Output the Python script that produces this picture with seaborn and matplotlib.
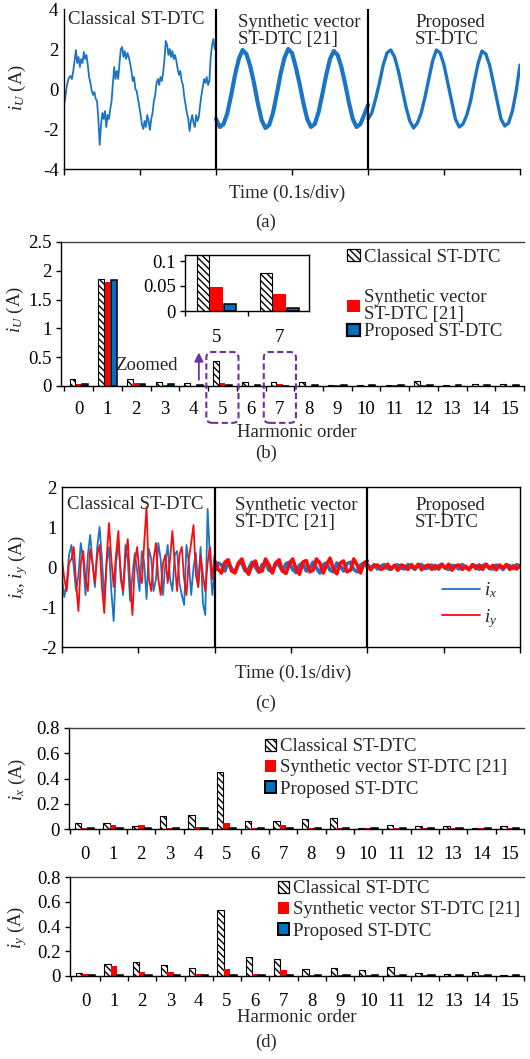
import numpy as np
import pandas as pd
import matplotlib
matplotlib.use("Agg")
import matplotlib.pyplot as plt
import seaborn as sns
from matplotlib.patches import Patch, FancyBboxPatch
from matplotlib.lines import Line2D
from matplotlib.legend import Legend
from matplotlib.ticker import FuncFormatter

sns.set_style("ticks")
plt.rcParams.update({
    "font.family": ["Liberation Serif", "DejaVu Serif"],
    "mathtext.fontset": "custom",
    "mathtext.rm": "Liberation Serif",
    "mathtext.it": "Liberation Serif:italic",
    "font.size": 13.5,
    "axes.unicode_minus": False,
    "hatch.linewidth": 1.0,
    "axes.linewidth": 1.0,
    "axes.edgecolor": "black",
    "xtick.color": "black",
    "ytick.color": "black",
    "xtick.major.size": 3.6,
    "ytick.major.size": 3.6,
    "xtick.minor.size": 3.6,
    "xtick.major.width": 1.0,
    "ytick.major.width": 1.0,
    "xtick.minor.width": 1.0,
    "xtick.direction": "out",
    "ytick.direction": "out",
})

# ---------------------------------------------------------------- data
METHODS = ["Classical ST-DTC", "Synthetic vector ST-DTC [21]", "Proposed ST-DTC"]
ORDERS = list(range(16))

# phase current i_U spectrum (A)
iu_classical = [0.13, 1.85, 0.13, 0.065, 0.06, 0.44, 0.065, 0.077, 0.075, 0.02, 0.02, 0.02, 0.08, 0.02, 0.03, 0.03]
iu_synthetic = [0.03, 1.80, 0.045, 0.02, 0.005, 0.048, 0.005, 0.034, 0.008, 0.01, 0.008, 0.01, 0.01, 0.005, 0.005, 0.005]
iu_proposed = [0.03, 1.84, 0.03, 0.04, 0.02, 0.015, 0.02, 0.006, 0.015, 0.02, 0.02, 0.02, 0.015, 0.015, 0.015, 0.015]
ZOOM_ORDERS = [5, 7]

# harmonic-plane current spectra (A)
ix_classical = [0.045, 0.048, 0.022, 0.10, 0.11, 0.455, 0.06, 0.065, 0.08, 0.09, 0.005, 0.028, 0.02, 0.025, 0.005, 0.025]
ix_synthetic = [0.008, 0.035, 0.032, 0.01, 0.015, 0.05, 0.006, 0.033, 0.004, 0.006, 0.004, 0.004, 0.004, 0.008, 0.004, 0.004]
ix_proposed = [0.006, 0.01, 0.006, 0.005, 0.005, 0.01, 0.004, 0.01, 0.005, 0.005, 0.004, 0.004, 0.004, 0.004, 0.004, 0.004]

iy_classical = [0.027, 0.10, 0.11, 0.086, 0.062, 0.53, 0.15, 0.134, 0.054, 0.065, 0.046, 0.075, 0.028, 0.02, 0.033, 0.008]
iy_synthetic = [0.016, 0.078, 0.032, 0.035, 0.019, 0.056, 0.016, 0.048, 0.01, 0.005, 0.005, 0.005, 0.005, 0.004, 0.006, 0.004]
iy_proposed = [0.008, 0.01, 0.01, 0.01, 0.008, 0.012, 0.008, 0.008, 0.006, 0.006, 0.006, 0.006, 0.006, 0.005, 0.005, 0.005]

# measured i_U (A), one record per controller, 0.2 s each
iu_trace_classical = [
    -0.8, -0.4, 0.1, 0.4, 0.6, 0.65, 0.5, 0.9, 1.4, 1.95, 1.3, 1.6, 1.1, 1.5, 1.3, 1.85,
    1.5, 1.7, 1.2, 0.6, 0.3, -0.1, -0.3, -0.15, -0.5, -0.6, -1.5, -2.8, -1.8, -1.2, -1.5,
    -1.1, -1.9, -1.3, -1.5, -1.0, -0.6, 0.3, 1.1, 0.5, 0.9, 0.5, 1.3, 2.0, 2.1, 1.6, 1.9,
    1.5, 1.8, 1.6, 1.3, 0.9, 0.4, 0.6, 0.0, -0.1, -0.5, -0.9, -1.3, -1.8, -2.0, -1.6, -1.9,
    -1.3, -1.6, -2.05, -1.5, -1.2, -0.6, -0.3, 0.3, 0.5, 0.2, 0.6, 0.4, 0.8, 1.5, 2.4, 2.2,
    1.7, 2.0, 1.6, 1.9, 1.5, 1.7, 1.4, 1.0, 0.7, 0.9, 0.4, 0.2, -0.4, -0.8, -1.2, -1.5,
    -2.1, -1.6, -1.3, -1.7, -1.9, -1.3, -1.6, -1.4, -0.8, -0.3, 0.1, 0.5, 0.3, 0.6, 0.2,
    0.4, 1.6, 2.2, 2.5, 2.0, 2.3,
]
iu_trace_synthetic = [
    -1.5, -1.9, -1.75, -1.2, -0.3, 0.7, 1.5, 1.95, 1.75, 1.15, 0.3, -0.7, -1.55, -1.95,
    -1.8, -1.2, -0.25, 0.75, 1.55, 2.0, 1.8, 1.1, 0.25, -0.7, -1.5, -1.9, -1.75, -1.15,
    -0.25, 0.7, 1.5, 1.9, 1.7, 1.1, 0.25, -0.7, -1.5, -1.9, -1.75, -1.3, -0.8,
]
iu_trace_proposed = [
    -1.5, -1.2, -0.5, 0.3, 1.2, 1.8, 1.95, 1.6, 0.9, 0.0, -0.9, -1.6, -1.95, -1.7, -1.2,
    -0.4, 0.5, 1.4, 1.95, 1.8, 1.2, 0.3, -0.6, -1.5, -1.9, -1.75, -1.3, -0.6, 0.4, 1.3,
    1.9, 1.75, 1.2, 0.3, -0.6, -1.5, -1.85, -1.7, -1.1, -0.1, 1.2,
]

# measured i_x / i_y (A)
ix_trace_classical = [
    -0.3, -0.75, -0.4, 0.3, 0.55, 0.0, -0.6, -0.2, 0.6, 0.2, -0.7, 0.3, 0.8, 0.1, -0.5,
    0.5, 1.0, 0.2, -0.8, 0.1, 0.5, -0.6, -1.35, 0.1, 0.6, -0.1, -0.7, 0.55, 0.2, -0.85,
    -0.2, 0.35, -0.1, -0.6, 0.4, 0.1, -0.8, 0.45, 0.2, -0.6, -0.3, 0.6, 0.2, -0.7, 0.1,
    0.55, -0.3, -0.6, 0.3, 0.4, -0.4, -0.7, -0.95, 0.55, 0.1, -0.7, 0.0, 0.35, -0.5, 0.5,
    -0.9, -1.2, 1.45, 0.2, -0.7, -0.1,
]
iy_trace_classical = [
    0.2, -0.3, -0.6, 0.1, 0.2, 0.5, -0.4, -1.1, 0.1, 0.4, -0.3, -0.6, 0.45, 0.1, -0.4,
    0.3, 0.55, -0.5, -1.15, 0.2, 1.1, 0.2, -0.5, 0.3, 0.9, -0.3, -0.6, 0.2, 0.7, -0.4,
    -1.2, 0.1, 0.5, -0.2, -0.4, 0.6, 1.5, -0.3, -0.6, 0.2, 0.6, -0.3, -0.7, 0.1, 0.3,
    -0.4, 0.2, 0.9, 0.1, -0.6, 0.3, 0.5, -0.3, -0.7, 0.2, 0.6, 1.05, -0.2, -0.5, 0.3,
    -0.2, -0.6, 0.1, 0.5, -0.3, 0.3,
]
ix_trace_synthetic = [
    -0.1, 0.1, 0.05, -0.1, 0.12, -0.05, -0.12, 0.08, 0.1, -0.1, -0.05, 0.12, 0.0, -0.13,
    0.06, 0.1, -0.08, -0.12, 0.1, 0.04, -0.1, 0.08, 0.12, -0.06, -0.14, 0.05, 0.1, -0.1,
    -0.04, 0.12, -0.02, -0.15, 0.06, 0.1, -0.08, -0.12, 0.1, 0.03, -0.1, 0.08, 0.12,
    -0.06, -0.12, 0.05, 0.1, 0.0,
]
iy_trace_synthetic = [
    0.15, -0.05, -0.15, 0.12, 0.18, -0.1, -0.15, 0.1, 0.2, -0.05, -0.18, 0.05, 0.15,
    -0.12, -0.1, 0.2, 0.05, -0.15, 0.1, 0.18, -0.1, -0.16, 0.08, 0.2, -0.05, -0.18, 0.12,
    0.16, -0.12, -0.08, 0.2, 0.1, -0.15, 0.05, 0.22, -0.05, -0.17, 0.1, 0.15, -0.12,
    -0.08, 0.2, 0.05, -0.15, 0.1, 0.15,
]
ix_trace_proposed = [
    0.05, -0.03, 0.06, -0.05, 0.02, 0.06, -0.04, -0.06, 0.04, 0.05, -0.03, -0.05, 0.06,
    0.0, -0.06, 0.04, 0.06, -0.04, -0.02, 0.05, -0.05, 0.03, 0.07, -0.03, -0.06, 0.04,
    0.02, -0.05, 0.06, -0.02, -0.05, 0.05, 0.03, -0.06, 0.04, 0.06, -0.04, -0.05, 0.05,
    0.01, -0.06, 0.05, 0.03, -0.04, 0.06, 0.0,
]
iy_trace_proposed = [
    0.06, -0.07, 0.03, 0.05, -0.06, -0.02, 0.07, -0.05, 0.04, -0.08, 0.05, 0.02, -0.06,
    0.06, -0.04, 0.07, -0.07, 0.02, 0.05, -0.06, 0.04, -0.05, 0.06, -0.03, 0.07, -0.08,
    0.03, 0.05, -0.06, 0.02, -0.07, 0.06, -0.04, 0.05, -0.06, 0.07, -0.03, 0.04, -0.07,
    0.05, -0.02, 0.06, -0.06, 0.03, -0.05, 0.04,
]

SEG_EDGES = [0.0, 0.2, 0.4, 0.6]
SEG_TITLES = ["Classical ST-DTC", "Synthetic vector\nST-DTC [21]", "Proposed\nST-DTC"]

# ---------------------------------------------------------------- style
TRACE_BLUE = "#1B75C3"
TRACE_RED = "#FF0A0A"
BAR_BLUE = "#0070C0"
BAR_RED = "#FF0000"
PURPLE = "#7030A0"
HATCH = "\\\\\\\\\\"
PALETTE = dict(zip(METHODS, ["white", BAR_RED, BAR_BLUE]))

W, H = 530, 1059
fig = plt.figure(figsize=(W / 100, H / 100), dpi=100, facecolor="white")

BOX_A = (64, 9, 520, 169)
BOX_B = (61, 242, 524, 386)
BOX_BI = (185, 255, 309, 311)
BOX_C = (62, 487, 520, 647)
BOX_D1 = (69, 728, 524, 829)
BOX_D2 = (70, 877, 524, 976)


def axes_at(box):
    l, t, r, b = box
    return fig.add_axes([l / W, 1 - b / H, (r - l) / W, (b - t) / H])


def to_axes(box, px, py):
    l, t, r, b = box
    return (px - l) / (r - l), (b - py) / (b - t)


def place_label(ax, box, which, px, py):
    axis = ax.xaxis if which == "x" else ax.yaxis
    axis.set_label_coords(*to_axes(box, px, py))
    axis.label.set_va("center")
    axis.label.set_ha("center")


plain = FuncFormatter(lambda v, p: f"{v:g}")


def legend_handles(size_lw=1.4):
    return [
        Patch(facecolor="white", edgecolor="black", hatch=HATCH, linewidth=0.9),
        Patch(facecolor=BAR_RED, edgecolor="none"),
        Patch(facecolor=BAR_BLUE, edgecolor="black", linewidth=size_lw),
    ]


# ---------------------------------------------------------------- time plots
def time_panel(ax, box, series, ylim, yticks, title_xy):
    for segments, color, widths in series:
        for k, vals in enumerate(segments):
            t = np.linspace(SEG_EDGES[k], SEG_EDGES[k + 1], len(vals))
            sns.lineplot(x=t, y=vals, ax=ax, color=color, linewidth=widths[k],
                         estimator=None, sort=False, legend=False)
    for edge in SEG_EDGES[1:3]:
        ax.axvline(edge, color="black", lw=1.6, zorder=5)
    ax.set_xlim(SEG_EDGES[0], SEG_EDGES[-1])
    ax.set_ylim(*ylim)
    ax.set_xticks(np.arange(0, 0.61, 0.1))
    ax.set_xticklabels([])
    ax.set_yticks(yticks)
    ax.yaxis.set_major_formatter(plain)
    ax.tick_params(axis="y", length=0, pad=4)
    ax.tick_params(axis="x", length=4, pad=2)
    for (px, py), txt in zip(title_xy, SEG_TITLES):
        fx, fy = to_axes(box, px, py)
        ax.text(fx, fy, txt, transform=ax.transAxes, ha="left", va="center",
                linespacing=1.05, zorder=6)


ax_a = axes_at(BOX_A)
time_panel(
    ax_a, BOX_A,
    [([iu_trace_classical, iu_trace_synthetic, iu_trace_proposed], TRACE_BLUE, [1.3, 3.0, 2.4])],
    (-4, 4), [-4, -2, 0, 2, 4],
    [(68, 20), (238, 31), (415, 31)],
)
sns.despine(ax=ax_a, top=True, right=True)
ax_a.set_xlabel("Time (0.1s/div)")
place_label(ax_a, BOX_A, "x", 287, 193)
ax_a.set_ylabel("$i_U$ (A)")
place_label(ax_a, BOX_A, "y", 17, 88)

ax_c = axes_at(BOX_C)
time_panel(
    ax_c, BOX_C,
    [([ix_trace_classical, ix_trace_synthetic, ix_trace_proposed], TRACE_BLUE, [1.3, 2.6, 2.6]),
     ([iy_trace_classical, iy_trace_synthetic, iy_trace_proposed], TRACE_RED, [1.3, 2.6, 2.6])],
    (-2, 2), [-2, -1, 0, 1, 2],
    [(67, 504), (235, 514), (415, 514)],
)
ax_c.set_xlabel("Time (0.1s/div)")
place_label(ax_c, BOX_C, "x", 293, 673)
ax_c.set_ylabel("$i_x$, $i_y$ (A)")
place_label(ax_c, BOX_C, "y", 18, 567)
ax_c.legend(
    handles=[Line2D([], [], color=TRACE_BLUE, lw=1.3), Line2D([], [], color=TRACE_RED, lw=1.3)],
    labels=["$i_x$", "$i_y$"], loc="center left",
    bbox_to_anchor=to_axes(BOX_C, 442, 605), frameon=False, handlelength=2.0,
    handletextpad=0.25, labelspacing=0.35, borderpad=0, borderaxespad=0,
)


# ---------------------------------------------------------------- spectra
def spectrum_bars(ax, orders, classical, synthetic, proposed, width, gap):
    df = pd.DataFrame({
        "order": np.tile(orders, 3),
        "value": np.concatenate([classical, synthetic, proposed]),
        "method": np.repeat(METHODS, len(orders)),
    })
    sns.barplot(data=df, x="order", y="value", hue="method", hue_order=METHODS,
                palette=PALETTE, saturation=1, width=width, gap=gap,
                errorbar=None, legend=False, ax=ax)
    cl, sy, pr = ax.containers
    for p in cl:
        p.set_facecolor("white")
        p.set_edgecolor("black")
        p.set_hatch(HATCH)
        p.set_linewidth(0.8)
    for p in sy:
        p.set_edgecolor("none")
        p.set_linewidth(0)
    for p in pr:
        p.set_edgecolor("black")
        p.set_linewidth(1.1)
    n = len(orders)
    ax.set_xticks(np.arange(-0.5, n, 1), minor=True)
    ax.tick_params(axis="x", which="major", length=0, pad=9)
    ax.tick_params(axis="x", which="minor", length=3.6)
    ax.tick_params(axis="y", length=3.6, pad=3)
    ax.yaxis.set_major_formatter(plain)
    ax.set_xlabel("")
    ax.set_ylabel("")
    ax.spines["top"].set_visible(True)
    ax.spines["top"].set_color("#404040")
    ax.spines["right"].set_visible(False)


# (b) i_U spectrum
ax_b = axes_at(BOX_B)
spectrum_bars(ax_b, ORDERS, iu_classical, iu_synthetic, iu_proposed, 0.66, 0.08)
ax_b.set_xlim(-0.62, 15.5)
ax_b.set_ylim(0, 2.5)
ax_b.set_yticks([0, 0.5, 1, 1.5, 2, 2.5])
ax_b.tick_params(axis="x", which="major", pad=11)
ax_b.set_xlabel("Harmonic order")
place_label(ax_b, BOX_B, "x", 297, 433)
ax_b.set_ylabel("$i_U$ (A)")
place_label(ax_b, BOX_B, "y", 15, 310)

hb = legend_handles(1.6)
for h, lab, py in zip(hb, ["Classical ST-DTC", "Synthetic vector\nST-DTC [21]", "Proposed ST-DTC"],
                      [257, 306, 332]):
    leg = Legend(ax_b, [h], [lab], loc="center left",
                 bbox_to_anchor=to_axes(BOX_B, 347, py), frameon=False,
                 handlelength=0.7, handleheight=0.65, handletextpad=0.2,
                 borderpad=0, borderaxespad=0)
    leg.get_texts()[0].set_linespacing(1.0)
    ax_b.add_artist(leg)

# zoom markers around orders 5 and 7
px_per_x = (BOX_B[2] - BOX_B[0]) / (15.5 + 0.62)
px_per_y = (BOX_B[3] - BOX_B[1]) / 2.5
for k in ZOOM_ORDERS:
    box = FancyBboxPatch((k - 0.56, -0.64), 1.12, 1.23,
                         boxstyle="round,pad=0,rounding_size=0.2",
                         mutation_aspect=px_per_x / px_per_y,
                         transform=ax_b.transData, clip_on=False,
                         fill=False, edgecolor=PURPLE, lw=1.5, linestyle=(0, (3, 1.6)),
                         zorder=7)
    ax_b.add_patch(box)
ax_b.annotate("", xy=(4.18, 0.63), xytext=(4.18, 0.06), xycoords="data",
              arrowprops=dict(arrowstyle="-|>", color=PURPLE, lw=1.3, mutation_scale=13),
              annotation_clip=False)
ax_b.text(3.45, 0.35, "Zoomed", ha="right", va="center")

# inset with orders 5 and 7
ax_bi = axes_at(BOX_BI)
ax_bi.set_facecolor("white")
spectrum_bars(ax_bi, ZOOM_ORDERS,
              [iu_classical[k] for k in ZOOM_ORDERS],
              [iu_synthetic[k] for k in ZOOM_ORDERS],
              [iu_proposed[k] for k in ZOOM_ORDERS], 0.64, 0.08)
ax_bi.spines["right"].set_visible(True)
ax_bi.spines["top"].set_color("black")
ax_bi.set_xlim(-0.5, 1.47)
ax_bi.set_ylim(0, 0.112)
ax_bi.set_yticks([0, 0.05, 0.1])
ax_bi.tick_params(axis="x", which="major", pad=13)

# (d) i_x and i_y spectra
for box, cl, sy, pr, ylab, leg_xy, xlab in [
    (BOX_D1, ix_classical, ix_synthetic, ix_proposed, "$i_x$ (A)", (265, 768), False),
    (BOX_D2, iy_classical, iy_synthetic, iy_proposed, "$i_y$ (A)", (278, 910), True),
]:
    ax = axes_at(box)
    spectrum_bars(ax, ORDERS, cl, sy, pr, 0.68, 0.0)
    ax.set_xlim(-0.55, 15.5)
    ax.set_ylim(0, 0.8)
    ax.set_yticks([0, 0.2, 0.4, 0.6, 0.8])
    ax.tick_params(axis="x", which="major", pad=12)
    ax.set_ylabel(ylab)
    place_label(ax, box, "y", 17, (box[1] + box[3]) / 2 + 1)
    if xlab:
        ax.set_xlabel("Harmonic order")
        place_label(ax, box, "x", 297, 1017)
    ax.legend(handles=legend_handles(1.4), labels=METHODS, loc="center left",
              bbox_to_anchor=to_axes(box, *leg_xy), frameon=False,
              handlelength=0.6, handleheight=0.6, handletextpad=0.2,
              labelspacing=0.22, borderpad=0, borderaxespad=0)

# panel captions
for lab, py in [("(a)", 222), ("(b)", 453), ("(c)", 703), ("(d)", 1042)]:
    fig.text(266 / W, 1 - py / H, lab, ha="center", va="center")

fig.savefig("out.png", dpi=100, facecolor="white")
